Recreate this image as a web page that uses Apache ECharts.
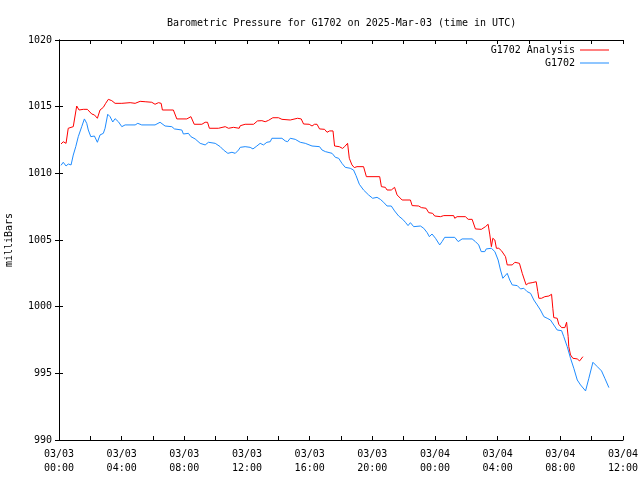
<!DOCTYPE html>
<html>
<head>
<meta charset="utf-8">
<script src="https://cdn.jsdelivr.net/npm/echarts@6/dist/echarts.min.js"></script>
<style>html,body{margin:0;padding:0;background:#fff}#c{width:640px;height:480px}</style>
</head>
<body>
<div id="c"></div>
<script>
// Hours since 2025-03-03 00:00 UTC
var analysisHours = [0.13,0.27,0.45,0.59,0.91,1.13,1.28,1.55,1.81,2.09,2.26,2.45,2.62,2.83,2.98,3.15,3.37,3.58,4.01,4.11,4.54,4.86,5.18,5.5,5.92,6.13,6.35,6.52,6.6,7.3,7.41,7.52,8.16,8.42,8.63,9.12,9.33,9.48,9.6,10.18,10.29,10.61,10.82,11.14,11.5,11.57,11.88,12.42,12.67,12.95,13.16,13.37,13.65,14.01,14.23,14.76,14.87,15.23,15.46,15.61,15.97,16.15,16.31,16.47,16.63,16.95,17.11,17.27,17.49,17.59,17.89,18.1,18.23,18.42,18.53,18.7,18.85,19.02,19.44,19.62,20.47,20.58,20.83,20.94,21.21,21.42,21.58,21.64,21.9,22.43,22.54,22.96,23.13,23.43,23.6,23.85,23.98,24.35,24.56,25.19,25.26,25.41,25.94,26.12,26.37,26.58,26.96,27.22,27.39,27.5,27.6,27.69,27.82,27.92,28.07,28.24,28.5,28.61,28.93,29.1,29.39,29.57,29.71,29.82,29.95,30.2,30.46,30.56,30.63,30.8,31.01,31.27,31.44,31.52,31.58,31.8,31.9,32.08,32.29,32.4,32.5,32.54,32.65,32.8,33.08,33.23,33.44];
var analysisValues = [1012.2,1012.37,1012.25,1013.38,1013.5,1015.05,1014.75,1014.8,1014.8,1014.45,1014.38,1014.13,1014.75,1014.95,1015.25,1015.55,1015.45,1015.25,1015.25,1015.33,1015.3,1015.25,1015.4,1015.37,1015.33,1015.18,1015.3,1015.25,1014.75,1014.75,1014.78,1014.08,1014.08,1014.25,1013.68,1013.68,1013.83,1013.83,1013.38,1013.38,1013.45,1013.5,1013.38,1013.45,1013.38,1013.57,1013.68,1013.68,1013.93,1013.95,1013.87,1013.97,1014.17,1014.17,1014.05,1014.0,1014.05,1014.13,1014.08,1013.7,1013.68,1013.55,1013.68,1013.68,1013.33,1013.3,1013.08,1013.18,1013.18,1012.05,1012.0,1011.87,1012.0,1012.25,1011.13,1010.63,1010.43,1010.5,1010.5,1009.75,1009.75,1009.0,1008.95,1008.75,1008.75,1008.95,1008.38,1008.3,1008.0,1008.0,1007.58,1007.55,1007.43,1007.38,1007.05,1007.0,1006.8,1006.75,1006.83,1006.83,1006.63,1006.75,1006.75,1006.55,1006.55,1005.83,1005.8,1006.0,1006.18,1005.38,1004.5,1005.13,1005.0,1004.38,1004.38,1004.2,1003.75,1003.13,1003.13,1003.33,1003.25,1002.5,1002.0,1001.63,1001.75,1001.8,1001.87,1001.13,1000.63,1000.63,1000.75,1000.8,1000.93,999.88,999.18,999.13,998.68,998.43,998.43,998.83,997.75,997.0,996.38,996.13,996.08,995.93,996.25];

var stationHours = [0.13,0.27,0.45,0.59,0.77,0.91,1.07,1.23,1.45,1.62,1.77,1.87,2.03,2.15,2.26,2.45,2.62,2.83,2.94,3.11,3.26,3.43,3.58,3.79,4.01,4.22,4.86,5.03,5.28,6.13,6.45,6.77,7.2,7.37,7.84,7.94,8.26,8.42,8.69,9.01,9.33,9.54,9.97,10.29,10.5,10.78,11.04,11.25,11.46,11.57,11.88,12.2,12.38,12.63,12.84,13.05,13.27,13.48,13.59,14.23,14.44,14.59,14.76,15.08,15.4,15.72,16.15,16.63,16.79,17.0,17.43,17.64,17.85,18.06,18.27,18.59,18.8,18.96,19.17,19.44,19.76,20.02,20.3,20.51,20.72,20.94,21.21,21.42,21.68,21.94,22.11,22.28,22.43,22.64,23.07,23.28,23.5,23.64,23.81,24.03,24.3,24.45,24.62,25.26,25.48,25.73,25.83,26.37,26.58,26.79,26.95,27.18,27.27,27.6,27.82,28.03,28.18,28.33,28.45,28.61,28.77,28.93,29.25,29.46,29.67,29.88,30.1,30.31,30.52,30.73,30.95,31.16,31.37,31.48,31.8,32.08,32.22,32.44,32.65,32.86,33.08,33.29,33.61,33.82,34.08,34.36,34.63,34.84,35.1];
var stationValues = [1010.6,1010.83,1010.55,1010.7,1010.63,1011.37,1012.0,1012.75,1013.5,1014.08,1013.75,1013.25,1012.75,1012.6,1012.8,1012.33,1012.88,1013.0,1013.38,1014.43,1014.25,1013.85,1014.1,1013.87,1013.5,1013.63,1013.63,1013.75,1013.63,1013.63,1013.83,1013.55,1013.5,1013.33,1013.25,1012.95,1013.0,1012.75,1012.58,1012.25,1012.13,1012.33,1012.25,1012.0,1011.75,1011.5,1011.58,1011.5,1011.75,1011.95,1012.0,1011.95,1011.83,1012.05,1012.25,1012.13,1012.33,1012.37,1012.63,1012.63,1012.43,1012.37,1012.63,1012.55,1012.33,1012.25,1012.05,1012.0,1011.75,1011.63,1011.5,1011.2,1011.13,1010.75,1010.45,1010.38,1010.25,1009.83,1009.18,1008.75,1008.38,1008.13,1008.2,1008.05,1007.83,1007.55,1007.55,1007.18,1006.8,1006.55,1006.33,1006.08,1006.3,1006.0,1006.05,1005.88,1005.55,1005.25,1005.45,1005.13,1004.63,1004.88,1005.2,1005.2,1004.88,1005.08,1005.13,1005.08,1004.88,1004.63,1004.13,1004.13,1004.33,1004.38,1004.13,1003.5,1002.75,1002.13,1002.13,1002.5,1002.0,1001.63,1001.58,1001.33,1001.38,1001.13,1001.0,1000.5,1000.13,999.75,999.25,999.13,999.0,999.13,998.25,998.2,997.75,997.0,996.13,995.38,994.5,994.13,993.68,994.63,995.83,995.5,995.18,994.63,993.93];

var xTickHours = [0,4,8,12,16,20,24,28,32,36];
var xTickLabels = ['03/03\n00:00','03/03\n04:00','03/03\n08:00','03/03\n12:00','03/03\n16:00','03/03\n20:00','03/04\n00:00','03/04\n04:00','03/04\n08:00','03/04\n12:00'];
var yTicks = [990,995,1000,1005,1010,1015,1020];

function zip(a, b) { return a.map(function (v, i) { return [v, b[i]]; }); }

var FONT = 'DejaVu Sans Mono';
var txt = { fontFamily: FONT, fontSize: 10, color: '#000' };
var axisLine = { show: true, lineStyle: { color: '#000', width: 1 } };
var tick = { show: true, inside: true, length: 4, lineStyle: { color: '#000' } };
var minor = { show: true, splitNumber: 2, length: 4, lineStyle: { color: '#000' } };

var chart = echarts.init(document.getElementById('c'), null, { renderer: 'canvas' });
chart.setOption({
  animation: false,
  backgroundColor: '#fff',
  title: {
    text: 'Barometric Pressure for G1702 on 2025-Mar-03 (time in UTC)',
    left: 162, top: 13,
    textStyle: { fontFamily: FONT, fontSize: 10, fontWeight: 'normal', color: '#000' }
  },
  legend: [
    { data: ['G1702 Analysis'], right: 26, top: 40, align: 'right', itemWidth: 29, itemHeight: 1, itemGap: 6,
      icon: 'rect', textStyle: txt, selectedMode: false },
    { data: ['G1702'], right: 26, top: 53, align: 'right', itemWidth: 29, itemHeight: 1, itemGap: 6,
      icon: 'rect', textStyle: txt, selectedMode: false }
  ],
  grid: { left: 59, right: 17, top: 40, bottom: 40, show: false, containLabel: false, outerBoundsMode: 'none' },
  xAxis: [
    { type: 'value', min: 0, max: 36, interval: 4, position: 'bottom',
      axisLine: axisLine, axisTick: tick, minorTick: minor, splitLine: { show: false },
      axisLabel: { fontFamily: FONT, fontSize: 10, color: '#000', margin: 7, lineHeight: 14,
        formatter: function (v) { var i = xTickHours.indexOf(v); return i >= 0 ? xTickLabels[i] : ''; } } },
    { type: 'value', min: 0, max: 36, interval: 4, position: 'top',
      axisLine: axisLine, axisTick: tick, minorTick: minor, splitLine: { show: false },
      axisLabel: { show: false } }
  ],
  yAxis: [
    { type: 'value', min: 990, max: 1020, interval: 5, position: 'left',
      name: 'milliBars', nameLocation: 'middle', nameGap: 45, nameRotate: 90,
      nameTextStyle: { fontFamily: FONT, fontSize: 10, color: '#000' },
      axisLine: axisLine, axisTick: tick, splitLine: { show: false },
      axisLabel: { fontFamily: FONT, fontSize: 10, color: '#000', margin: 7,
        formatter: function (v) { return yTicks.indexOf(v) >= 0 ? String(v) : ''; } } },
    { type: 'value', min: 990, max: 1020, interval: 5, position: 'right',
      axisLine: axisLine, axisTick: tick, splitLine: { show: false }, axisLabel: { show: false } }
  ],
  series: [
    { name: 'G1702 Analysis', type: 'line', data: zip(analysisHours, analysisValues),
      showSymbol: false, symbol: 'none', color: '#ff0000', lineStyle: { width: 1, color: '#ff0000' } },
    { name: 'G1702', type: 'line', data: zip(stationHours, stationValues),
      showSymbol: false, symbol: 'none', color: '#1e8cff', lineStyle: { width: 1, color: '#1e8cff' } }
  ]
});
</script>
</body>
</html>
